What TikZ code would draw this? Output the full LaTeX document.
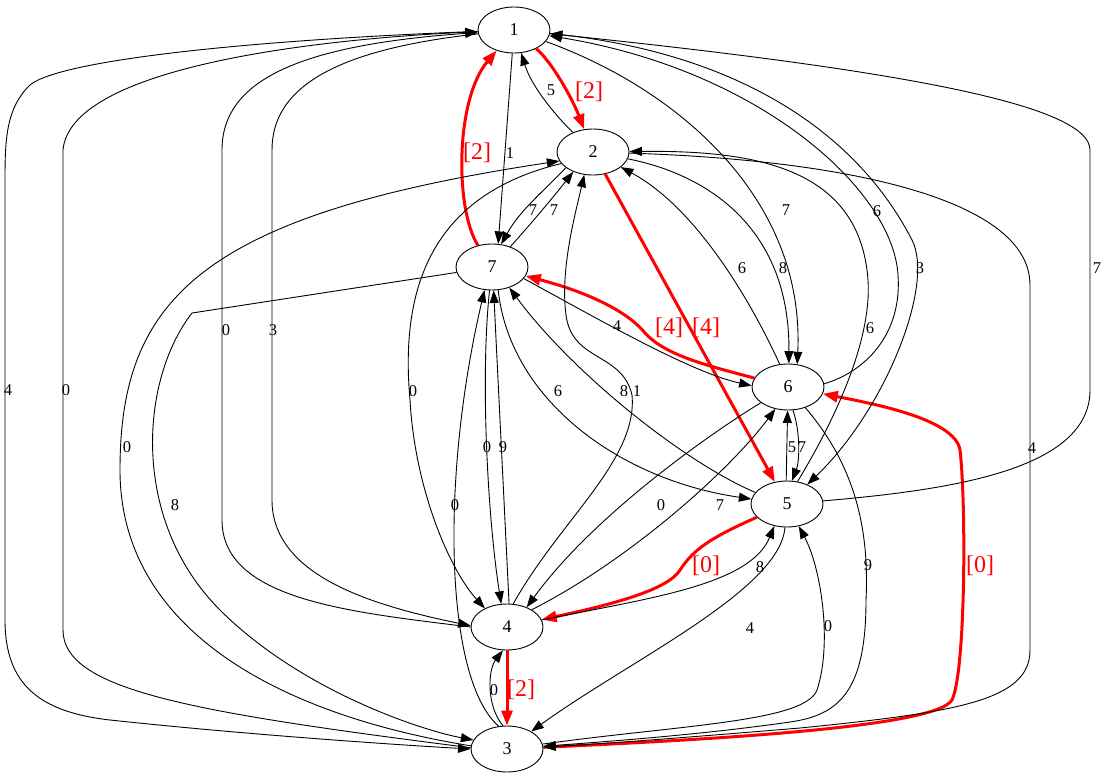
\documentclass[tikz,border=0pt]{standalone}
\usepackage{fontspec}
\setmainfont{Liberation Serif}
\usetikzlibrary{arrows.meta,shapes.geometric}
\definecolor{tourred}{HTML}{FF0000}

\begin{document}
\begin{tikzpicture}[
  x=1pt,y=-1pt,
  >={Triangle[length=12.5pt,width=9pt]},
  city/.style={draw,ellipse,line width=0.9pt,minimum width=72pt,minimum height=46pt,
    inner sep=0pt,font=\fontsize{18}{20}\selectfont},
  hop/.style={->,line width=0.9pt},
  tourhop/.style={-{Triangle[length=15pt,width=11pt]},line width=3pt,color=tourred},
  cost/.style={inner sep=0pt,font=\fontsize{16.5}{18}\selectfont},
  tourcost/.style={inner sep=0pt,color=tourred,font=\fontsize{24}{26}\selectfont}
]
\useasboundingbox (0,0) rectangle (1105,779);

\node[city] (n1) at (514,30) {1};
\node[city] (n2) at (593,152) {2};
\node[city] (n7) at (492,267) {7};
\node[city] (n6) at (788,387) {6};
\node[city] (n5) at (787,504) {5};
\node[city] (n4) at (507,627) {4};
\node[city] (n3) at (507,749) {3};

\draw[tourhop] (n1) .. controls (552,62) and (572,98) .. (n2);
\draw[tourhop] (n2) -- (n5);
\draw[tourhop] (n5) .. controls (705,540) and (692,552) .. (680,570)
  .. controls (668,590) and (610,605) .. (n4);
\draw[tourhop] (n4) -- (n3);
\draw[tourhop] (n3) .. controls (700,740) and (935,728) .. (952,700)
  .. controls (966,670) and (966,500) .. (960,450)
  .. controls (955,420) and (880,405) .. (n6);
\draw[tourhop] (n6) .. controls (705,365) and (665,355) .. (645,333)
  .. controls (628,312) and (590,293) .. (n7);
\draw[tourhop] (n7) .. controls (455,210) and (455,100) .. (n1);

\draw[hop] (n2) .. controls (558,118) and (532,88) .. (n1);
\draw[hop] (n1) -- (n7.75);
\draw[hop] (n7.48) .. controls (530,225) and (555,195) .. (n2.-135);
\draw[hop] (n2.-150) .. controls (545,190) and (520,210) .. (n7.68);
\draw[hop] (n1) .. controls (680,90) and (805,200) .. (n6.68);
\draw[hop] (n2) .. controls (710,175) and (790,230) .. (n6.88);
\draw[hop] (n6.110) .. controls (755,310) and (700,210) .. (n2);
\draw[hop] (n6.5) .. controls (870,370) and (902,330) .. (898,275)
  .. controls (893,190) and (760,70) .. (n1);
\draw[hop] (n1) .. controls (720,50) and (850,120) .. (912,240)
  .. controls (935,285) and (885,410) .. (n5);
\draw[hop] (n5) .. controls (950,490) and (1090,470) .. (1090,390) -- (1090,150)
  .. controls (1090,105) and (900,70) .. (n1);
\draw[hop] (n5.65) .. controls (835,420) and (872,340) .. (868,280)
  .. controls (860,170) and (760,150) .. (n2);
\draw[hop] (n2) .. controls (850,160) and (1030,200) .. (1030,285) -- (1030,650)
  .. controls (1030,700) and (960,712) .. (800,728)
  .. controls (680,738) and (600,744) .. (n3);
\draw[hop] (n6.-50) .. controls (850,460) and (870,520) .. (866,600)
  .. controls (866,690) and (840,715) .. (790,722)
  .. controls (700,735) and (600,742) .. (n3);
\draw[hop] (n3) .. controls (680,725) and (805,722) .. (817,690)
  .. controls (832,645) and (822,570) .. (n5.-62);
\draw[hop] (n5.-95) .. controls (780,590) and (630,660) .. (n3);
\draw[hop] (n4) .. controls (650,598) and (750,585) .. (n5.-120);
\draw[hop] (n4.35) .. controls (630,560) and (730,470) .. (n6.-120);
\draw[hop] (n6.-150) .. controls (700,440) and (590,520) .. (n4.45);
\draw[hop] (n4.75) .. controls (560,520) and (638,460) .. (632,395)
  .. controls (622,352) and (572,362) .. (566,315)
  .. controls (560,270) and (575,215) .. (n2.-111);
\draw[hop] (n5.160) .. controls (680,460) and (570,370) .. (n7.-50);
\draw[hop] (n7.-75) .. controls (510,400) and (620,480) .. (n5.172);
\draw[hop] (n7.-20) .. controls (600,320) and (690,372) .. (n6.178);
\draw[hop] (n5.92) -- (n6.-91);
\draw[hop] (n6.-78) .. controls (800,430) and (800,460) .. (n5.78);
\draw[hop] (n7.-96) .. controls (480,380) and (488,520) .. (n4.104);
\draw[hop] (n4.85) .. controls (505,520) and (498,380) .. (n7.-86);
\draw[hop] (n3.110) .. controls (445,680) and (440,480) .. (n7.-108);
\draw[hop] (n3.100) .. controls (486,705) and (488,670) .. (n4.-100);
\draw[hop] (n2.-160) .. controls (430,195) and (400,290) .. (410,400)
  .. controls (415,490) and (450,570) .. (n4.140);
\draw[hop] (n3.175) .. controls (280,715) and (120,630) .. (120,470)
  .. controls (120,300) and (200,215) .. (n2.-165);
\draw[hop] (n7) -- (192,313) .. controls (140,380) and (130,520) .. (220,610)
  .. controls (300,690) and (420,730) .. (n3.165);
\draw[hop] (n1) .. controls (250,40) and (60,60) .. (30,85)
  .. controls (6,108) and (5,140) .. (5,180) -- (5,620)
  .. controls (5,685) and (40,712) .. (110,720)
  .. controls (250,735) and (400,745) .. (n3.180);
\draw[hop,<-] (n1) .. controls (300,40) and (70,70) .. (63,150) -- (63,630)
  .. controls (63,690) and (190,712) .. (n3.178);
\draw[hop,<-] (n1) .. controls (300,45) and (222,80) .. (222,150) -- (222,520)
  .. controls (222,600) and (350,612) .. (n4.180);
\draw[hop] (n1) .. controls (330,50) and (272,90) .. (272,150) -- (272,500)
  .. controls (272,575) and (370,605) .. (n4.178);

\node[tourcost] (c12) at (589,92) {[2]};
\node[tourcost] (c71) at (477,153) {[2]};
\node[tourcost] (c67) at (669,328) {[4]};
\node[tourcost] (c25) at (706,328) {[4]};
\node[tourcost] (c54) at (706,566) {[0]};
\node[tourcost] (c36) at (980,566) {[0]};
\node[tourcost] (c43) at (521,690) {[2]};

\node[cost] (c21) at (551,90) {5};
\node[cost] (c17) at (510,153) {1};
\node[cost] (c27) at (533,210) {7};
\node[cost] (c72) at (554,210) {7};
\node[cost] (c16) at (786,210) {7};
\node[cost] (c61) at (877,211) {6};
\node[cost] (c15) at (920,268) {3};
\node[cost] (c51) at (1097,268) {7};
\node[cost] (c26) at (783,268) {8};
\node[cost] (c62) at (742,268) {6};
\node[cost] (c23) at (1032,448) {4};
\node[cost] (c52) at (870,328) {6};
\node[cost] (c76) at (617,326) {4};
\node[cost] (c32) at (127,447) {0};
\node[cost] (c24) at (413,391) {0};
\node[cost] (c41) at (226,330) {0};
\node[cost] (c14) at (273,330) {3};
\node[cost] (c13) at (8,390) {4};
\node[cost] (c31) at (66,390) {0};
\node[cost] (c73) at (175,505) {8};
\node[cost] (c75) at (558,391) {6};
\node[cost] (c57) at (624,391) {8};
\node[cost] (c42) at (637,391) {1};
\node[cost] (c74) at (487,447) {0};
\node[cost] (c47) at (503,447) {9};
\node[cost] (c56) at (792,447) {5};
\node[cost] (c65) at (802,447) {7};
\node[cost] (c37) at (455,505) {0};
\node[cost] (c64) at (661,505) {0};
\node[cost] (c46) at (720,505) {7};
\node[cost] (c63) at (868,565) {9};
\node[cost] (c45) at (760,567) {8};
\node[cost] (c53) at (750,628) {4};
\node[cost] (c35) at (828,626) {0};
\node[cost] (c34) at (494,690) {0};
\end{tikzpicture}
\end{document}
